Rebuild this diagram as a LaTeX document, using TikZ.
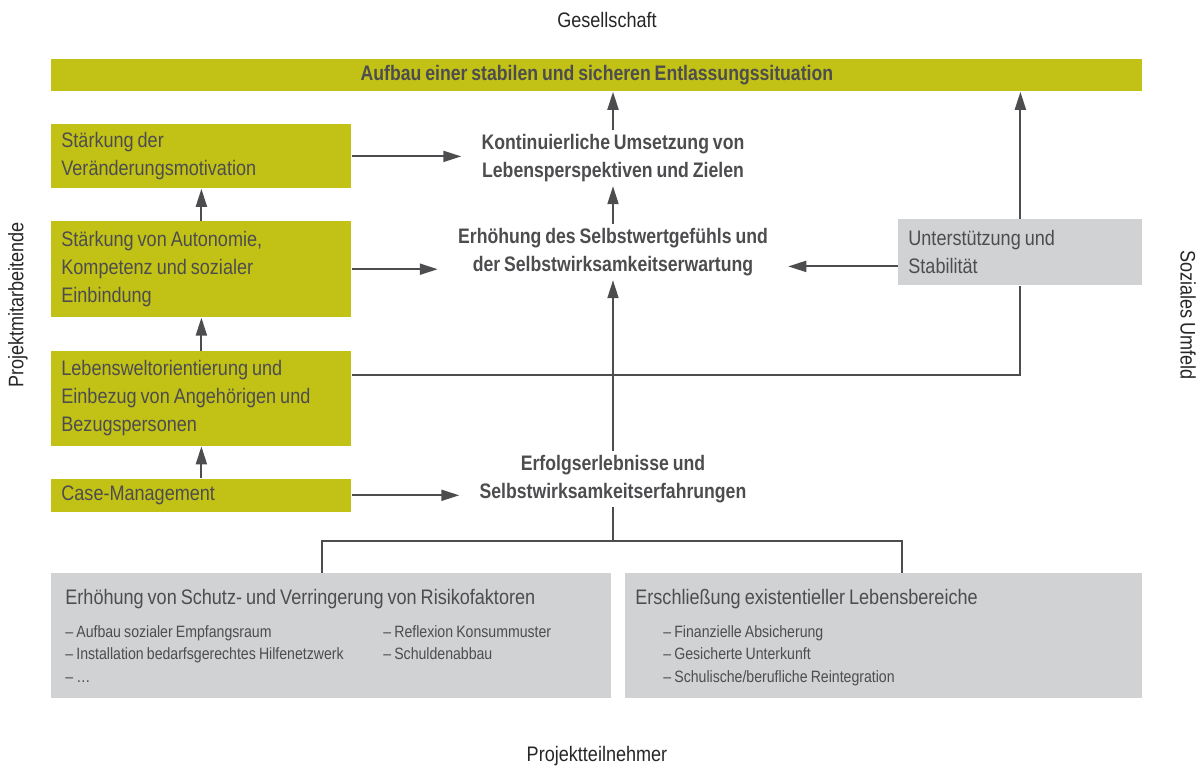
\documentclass[tikz,border=0pt]{standalone}
\usepackage{fontspec}
\setmainfont[FakeStretch=0.86, WordSpace=0.8, BoldFeatures={FakeStretch=0.84}]{Liberation Sans}
\usepackage{xcolor}
\usetikzlibrary{arrows.meta, positioning}
\definecolor{projgreen}{HTML}{C2C116}
\definecolor{projgrey}{HTML}{D1D2D4}
\definecolor{darktext}{HTML}{4D4D4F}
\newcommand{\mainsize}{\fontsize{10.5}{14}\selectfont}
\newcommand{\itemsize}{\fontsize{8.2}{11.25}\selectfont}
\tikzset{
    myarrow/.style={-{Triangle[length=9pt,width=5.5pt]}, draw=darktext, line width=1pt},
    myline/.style={draw=darktext, line width=1pt},
    greenbox/.style={fill=projgreen, text=darktext, font=\mainsize, align=flush left, anchor=north west, text width=140pt, inner xsep=5pt, inner ysep=0pt},
    greybox/.style={fill=projgrey, text=darktext, align=flush left, anchor=north west, inner ysep=0pt},
    effect/.style={text=darktext, font=\mainsize\bfseries, align=center, inner xsep=10pt, inner ysep=2pt},
    sidelabel/.style={text=black!85, font=\mainsize}
}

\begin{document}
\begin{tikzpicture}[x=0.5pt, y=-0.5pt]
    \useasboundingbox (0,0) rectangle (1201,767);
    % labels round the picture
    \node (gesell) [sidelabel] at (607,20) {Gesellschaft};
    \node (teiln) [sidelabel] at (597,756) {Projektteilnehmer};
    \node (mitarb) [sidelabel, rotate=90] at (18,305) {Projektmitarbeitende};
    \node (umfeld) [sidelabel, rotate=-90] at (1188,315) {Soziales Umfeld};
    % goal
    \node (ziel) [fill=projgreen, text=darktext, font=\mainsize\bfseries, anchor=north west, minimum width=545.5pt, minimum height=16pt, inner sep=0pt] at (51,59) {Aufbau einer stabilen und sicheren Entlassungssituation};
    % left column
    \node (motiv) [greenbox, minimum height=32pt] at (51,124) {Stärkung der\\Veränderungsmotivation};
    \node (auton) [greenbox, minimum height=48pt, below=16pt of motiv.south west, anchor=north west] {Stärkung von Autonomie,\\Kompetenz und sozialer\\Einbindung};
    \node (lebens) [greenbox, minimum height=47.5pt, below=16.5pt of auton.south west, anchor=north west] {Lebensweltorientierung und\\Einbezug von Angehörigen und\\Bezugspersonen};
    \node (case) [greenbox, minimum height=16.5pt, below=16pt of lebens.south west, anchor=north west] {Case-Management};
    % middle column
    \node (ziele) [effect] at (613,158) {Kontinuierliche Umsetzung von\\Lebensperspektiven und Zielen};
    \node (selbstwert) [effect] at (613,252) {Erhöhung des Selbstwertgefühls und\\der Selbstwirksamkeitserwartung};
    \node (erfolg) [effect] at (613,479) {Erfolgserlebnisse und\\Selbstwirksamkeitserfahrungen};
    % right
    \node (stab) [greybox, font=\mainsize, text width=112pt, inner xsep=5pt, minimum height=33pt] at (898,219) {Unterstützung und\\Stabilität};
    % bottom
    \node (risiko) [greybox, text width=266pt, inner xsep=7pt, minimum height=62.5pt] at (51,573) {{\mainsize\rule{0pt}{10.6pt}Erhöhung von Schutz- und Verringerung von Risikofaktoren}\\[5.5pt]
        {\itemsize\begin{tabular}{@{}p{159pt}@{}l@{}}
        – Aufbau sozialer Empfangsraum & – Reflexion Konsummuster\\
        – Installation bedarfsgerechtes Hilfenetzwerk & – Schuldenabbau\\
        – \dots &
        \end{tabular}}};
    \node (bereiche) [greybox, text width=248.5pt, inner xsep=5pt, minimum height=62.5pt] at (625,573) {{\mainsize\rule{0pt}{10.6pt}Erschließung existentieller Lebensbereiche}\\[5.5pt]
        {\itemsize\begin{tabular}{@{\hspace{14pt}}l@{}}
        – Finanzielle Absicherung\\
        – Gesicherte Unterkunft\\
        – Schulische/berufliche Reintegration
        \end{tabular}}};
    % connectors
    \draw [myarrow] (case) -- (lebens);
    \draw [myarrow] (lebens) -- (auton);
    \draw [myarrow] (auton) -- (motiv);
    \draw [myarrow] (motiv) -- (motiv -| ziele.west);
    \draw [myarrow] (auton) -- (auton -| selbstwert.west);
    \draw [myarrow] (case) -- (case -| erfolg.west);
    \draw [myarrow] (ziele) -- (ziele |- ziel.south);
    \draw [myarrow] (selbstwert) -- (selbstwert |- ziele.south);
    \draw [myarrow] (erfolg) -- (erfolg |- selbstwert.south);
    \draw [myarrow] (stab) -- (stab |- ziel.south);
    \draw [myarrow] ([yshift=-7pt]stab.west) -- ([yshift=-7pt]stab.west -| selbstwert.east);
    \draw [myline] ([yshift=12pt]lebens.east) -| (stab.south);
    \coordinate (split) at (613,541);
    \draw [myline] (erfolg) -- (split);
    \draw [myline] ([xshift=-4.5pt]risiko.north) |- (split) -| ([xshift=9.25pt]bereiche.north);
\end{tikzpicture}
\end{document}
